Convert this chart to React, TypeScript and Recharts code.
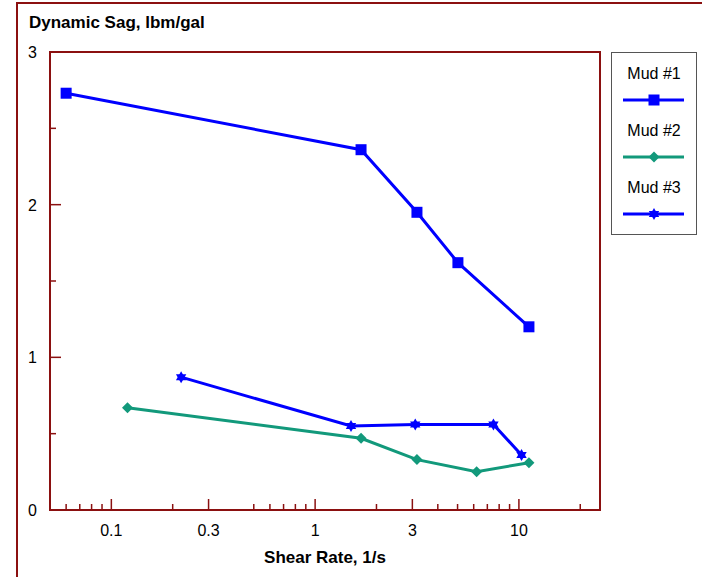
import { LineChart, Line, XAxis, YAxis, ReferenceArea, Legend } from 'recharts'

// shear rate (1/s) and dynamic sag (lbm/gal) per mud
const mud1Rate = [0.06, 1.68, 3.16, 5.02, 11.2]
const mud1Sag = [2.73, 2.36, 1.95, 1.62, 1.2]
const mud2Rate = [0.12, 1.68, 3.16, 6.2, 11.2]
const mud2Sag = [0.67, 0.47, 0.33, 0.25, 0.31]
const mud3Rate = [0.22, 1.5, 3.1, 7.5, 10.3]
const mud3Sag = [0.87, 0.55, 0.56, 0.56, 0.36]

const xTicks = [0.06, 0.07, 0.08, 0.09, 0.1, 0.2, 0.3, 0.5, 0.6, 0.7, 0.8, 0.9, 1, 2, 3, 4, 5, 6, 7, 8, 9, 10, 20]
const xLabels = [0.1, 0.3, 1, 3, 10]
const yTicks = [0, 0.5, 1, 1.5, 2, 2.5, 3]
const yLabels = [0, 1, 2, 3]

const FRAME = '#8b1010'
const BLUE = '#0000ff'
const TEAL = '#12997b'
const FONT = '"Liberation Sans", Arial, sans-serif'

const toRows = (rate: number[], sag: number[]) => rate.map((r, i) => ({ rate: r, sag: sag[i] }))

type Shape = 'square' | 'diamond' | 'star'

function Marker({ cx, cy, shape, color }: { cx: number; cy: number; shape: Shape; color: string }) {
  if (shape === 'square') {
    return <rect x={cx - 5.5} y={cy - 5.5} width={11} height={11} fill={color} />
  }
  if (shape === 'diamond') {
    return <polygon points={`${cx},${cy - 5.5} ${cx + 5.5},${cy} ${cx},${cy + 5.5} ${cx - 5.5},${cy}`} fill={color} />
  }
  const r = 6
  const tri = (a: number) =>
    [0, 1, 2]
      .map((k) => {
        const t = a + (k * 2 * Math.PI) / 3
        return `${cx + r * Math.sin(t)},${cy - r * Math.cos(t)}`
      })
      .join(' ')
  return (
    <g fill={color}>
      <polygon points={tri(0)} />
      <polygon points={tri(Math.PI / 3)} />
    </g>
  )
}

const dot = (shape: Shape, color: string) => (p: any) =>
  <Marker key={p.index} cx={p.cx} cy={p.cy} shape={shape} color={color} />

function XTick({ x, y, payload }: any) {
  const major = xLabels.includes(payload.value)
  return (
    <g>
      <line x1={x} x2={x} y1={y} y2={y - (major ? 11 : 6)} stroke={FRAME} strokeWidth={1.5} />
      {major && (
        <text x={x} y={y + 26} textAnchor="middle" fontSize={16} fontFamily={FONT} fill="#000">
          {payload.value}
        </text>
      )}
    </g>
  )
}

function YTick({ x, y, payload }: any) {
  const major = yLabels.includes(payload.value)
  return (
    <g>
      <line x1={x} x2={x + (major ? 11 : 6)} y1={y} y2={y} stroke={FRAME} strokeWidth={1.5} />
      {major && (
        <text x={x - 13} y={y + 6} textAnchor="end" fontSize={16} fontFamily={FONT} fill="#000">
          {payload.value}
        </text>
      )}
    </g>
  )
}

const legendShapes: Record<string, Shape> = { 'Mud #1': 'square', 'Mud #2': 'diamond', 'Mud #3': 'star' }

function LegendBox({ payload }: any) {
  return (
    <svg width={86} height={183}>
      <rect x={0.5} y={0.5} width={85} height={182} fill="#fff" stroke="#555" strokeWidth={1} />
      {(payload ?? []).map((e: any, i: number) => (
        <g key={e.value}>
          <text x={43} y={27 + i * 57} textAnchor="middle" fontSize={16} fontFamily={FONT} fill="#000">
            {e.value}
          </text>
          <line x1={12} x2={73} y1={48 + i * 57} y2={48 + i * 57} stroke={e.color} strokeWidth={3} />
          <Marker cx={43} cy={48 + i * 57} shape={legendShapes[e.value]} color={e.color} />
        </g>
      ))}
    </svg>
  )
}

export default function App() {
  return (
    <div style={{ position: 'absolute', left: 0, top: 0, width: 702, height: 577, background: '#fff' }}>
      <div
        style={{
          position: 'absolute',
          left: 16,
          top: 2,
          width: 702 - 16,
          height: 577 - 2,
          borderLeft: `2px solid ${FRAME}`,
          borderTop: `2px solid ${FRAME}`,
          boxSizing: 'border-box',
        }}
      />
      <div style={{ position: 'absolute', left: 0, top: 0 }}>
        <LineChart width={702} height={577} margin={{ top: 52, right: 102, bottom: 27, left: 20 }}>
          <XAxis
            dataKey="rate"
            type="number"
            scale="log"
            domain={[0.05, 25]}
            allowDataOverflow
            ticks={xTicks}
            interval={0}
            tickSize={0}
            tickMargin={0}
            tickLine={false}
            axisLine={false}
            tick={<XTick />}
            height={40}
            label={{
              content: () => (
                <text x={325} y={563} textAnchor="middle" fontSize={17} fontWeight="bold" fontFamily={FONT} fill="#000">
                  Shear Rate, 1/s
                </text>
              ),
            }}
          />
          <YAxis
            type="number"
            domain={[0, 3]}
            ticks={yTicks}
            interval={0}
            tickSize={0}
            tickMargin={0}
            tickLine={false}
            axisLine={false}
            tick={<YTick />}
            width={30}
            label={{
              content: () => (
                <text x={29} y={28} fontSize={17} fontWeight="bold" fontFamily={FONT} fill="#000">
                  Dynamic Sag, lbm/gal
                </text>
              ),
            }}
          />
          <ReferenceArea x1={0.05} x2={25} y1={0} y2={3} fill="none" stroke={FRAME} strokeWidth={2} ifOverflow="visible" />
          <Legend
            layout="vertical"
            align="center"
            verticalAlign="middle"
            wrapperStyle={{ left: 611, top: 52, width: 86, height: 183 }}
            content={<LegendBox />}
          />
          <Line
            name="Mud #1"
            data={toRows(mud1Rate, mud1Sag)}
            dataKey="sag"
            stroke={BLUE}
            strokeWidth={3}
            dot={dot('square', BLUE)}
            activeDot={false}
            isAnimationActive={false}
          />
          <Line
            name="Mud #2"
            data={toRows(mud2Rate, mud2Sag)}
            dataKey="sag"
            stroke={TEAL}
            strokeWidth={3}
            dot={dot('diamond', TEAL)}
            activeDot={false}
            isAnimationActive={false}
          />
          <Line
            name="Mud #3"
            data={toRows(mud3Rate, mud3Sag)}
            dataKey="sag"
            stroke={BLUE}
            strokeWidth={3}
            dot={dot('star', BLUE)}
            activeDot={false}
            isAnimationActive={false}
          />
        </LineChart>
      </div>
    </div>
  )
}
